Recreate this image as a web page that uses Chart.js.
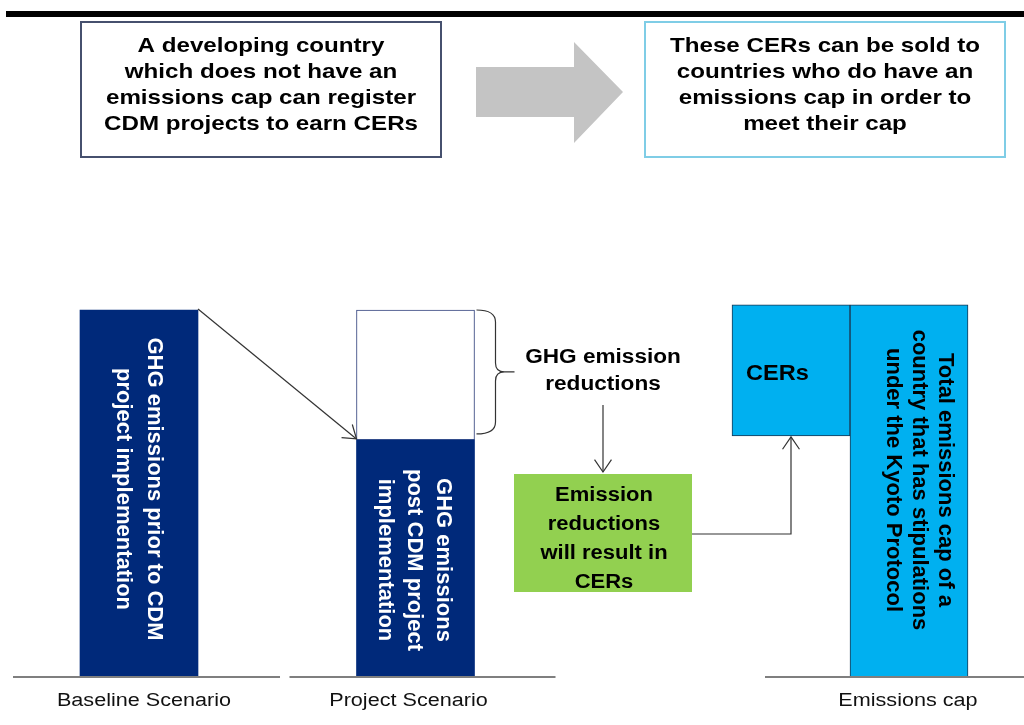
<!DOCTYPE html>
<html>
<head>
<meta charset="utf-8">
<title>CDM projects and CERs</title>
<script src="https://cdn.jsdelivr.net/npm/chart.js@4/dist/chart.umd.min.js"></script>
<style>
  html, body { margin: 0; padding: 0; background: #fff; }
  #wrap { position: relative; width: 1024px; height: 725px; }
</style>
</head>
<body>
<div id="wrap"><canvas id="chart"></canvas></div>
<script>
// --- values (baseline emissions = 100) ---
const CATEGORIES = ["Baseline Scenario", "Project Scenario", "Emissions cap"];
const GHG_EMISSIONS = [100, 64.6, null];
const EMISSION_REDUCTIONS = [null, 35.4, null];
const CERS = [null, null, [65.7, 101.4]];
const EMISSIONS_CAP = [null, null, 101.4];

// --- texts ---
const BAR_TEXT = [
  ["GHG emissions prior to CDM", "project implementation"],
  ["GHG emissions", "post CDM project", "implementation"],
  ["Total emissions cap of a", "country that has stipulations", "under the Kyoto Protocol"]
];
const LEFT_NOTE = ["A developing country", "which does not have an", "emissions cap can register", "CDM projects to earn CERs"];
const RIGHT_NOTE = ["These CERs can be sold to", "countries who do have an", "emissions cap in order to", "meet their cap"];
const REDUCTION_NOTE = ["GHG emission", "reductions"];
const RESULT_NOTE = ["Emission", "reductions", "will result in", "CERs"];
const CER_LABEL = "CERs";

// each category sits on a slot of a wider category axis so the gaps match the original
const SLOTS = [0, 7, 18];
const N_SLOTS = 19;

const NAVY = "#00297a";
const SKY = "#00b0f0";
const GREEN = "#92d050";
const FONT = '"Liberation Sans", Arial, sans-serif';
const STRETCH = 1.15; // the source artwork is drawn a bit wide

function spread(values) {
  const out = new Array(N_SLOTS).fill(null);
  SLOTS.forEach((s, i) => { out[s] = values[i]; });
  return out;
}

function write(ctx, str, x, y, size, o = {}) {
  ctx.save();
  ctx.translate(x, y);
  if (o.rotate) ctx.rotate(Math.PI / 2);
  ctx.scale(o.sx || 1, 1);
  ctx.font = (o.bold === false ? "" : "bold ") + size + "px " + FONT;
  ctx.fillStyle = o.color || "#000";
  ctx.textAlign = o.align || "center";
  ctx.textBaseline = o.baseline || "alphabetic";
  ctx.fillText(str, 0, 0);
  ctx.restore();
}

function lines(ctx, list, x, y0, step, size, o) {
  list.forEach((s, i) => write(ctx, s, x, y0 + i * step, size, o));
}

// rotated text reading top to bottom, first line on the right
function sideways(ctx, list, cx, cy, step, size, color) {
  const n = list.length;
  list.forEach((s, i) => {
    write(ctx, s, cx + ((n - 1) / 2 - i) * step, cy, size, { rotate: true, color, baseline: "middle" });
  });
}

function arrow(ctx, pts) {
  ctx.save();
  ctx.strokeStyle = "#333";
  ctx.lineWidth = 1.2;
  ctx.beginPath();
  ctx.moveTo(pts[0][0], pts[0][1]);
  pts.slice(1).forEach((p) => ctx.lineTo(p[0], p[1]));
  ctx.stroke();
  const [x1, y1] = pts[pts.length - 2];
  const [x2, y2] = pts[pts.length - 1];
  const a = Math.atan2(y2 - y1, x2 - x1);
  ctx.beginPath();
  ctx.moveTo(x2 - 15 * Math.cos(a - 0.6), y2 - 15 * Math.sin(a - 0.6));
  ctx.lineTo(x2, y2);
  ctx.lineTo(x2 - 15 * Math.cos(a + 0.6), y2 - 15 * Math.sin(a + 0.6));
  ctx.stroke();
  ctx.restore();
}

const diagram = {
  id: "diagram",
  afterDatasetsDraw(chart) {
    const ctx = chart.ctx;
    const y = chart.scales.y;
    const navy = chart.getDatasetMeta(1).data;
    const white = chart.getDatasetMeta(2).data;
    const cers = chart.getDatasetMeta(0).data[SLOTS[2]];
    const cap = chart.getDatasetMeta(3).data[SLOTS[2]];
    const base = navy[SLOTS[0]];
    const proj = navy[SLOTS[1]];
    const gap = white[SLOTS[1]];
    const zero = y.getPixelForValue(0);

    ctx.save();
    // top rule
    ctx.fillStyle = "#000";
    ctx.fillRect(6, 11, 1018, 6);

    // two notes and the big grey arrow
    ctx.lineWidth = 2;
    ctx.strokeStyle = "#46506e";
    ctx.strokeRect(81, 22, 360, 135);
    ctx.strokeStyle = "#7fcde6";
    ctx.strokeRect(645, 22, 360, 135);
    lines(ctx, LEFT_NOTE, 261, 52, 26, 21, { sx: STRETCH });
    lines(ctx, RIGHT_NOTE, 825, 52, 26, 21, { sx: STRETCH });
    ctx.fillStyle = "#c4c4c4";
    ctx.beginPath();
    ctx.moveTo(476, 67); ctx.lineTo(574, 67); ctx.lineTo(574, 42);
    ctx.lineTo(623, 92); ctx.lineTo(574, 143); ctx.lineTo(574, 117);
    ctx.lineTo(476, 117); ctx.closePath();
    ctx.fill();

    // ground lines and category names
    ctx.fillStyle = "#7f7f7f";
    ctx.fillRect(base.x - 126, zero - 1, 267, 2);
    ctx.fillRect(proj.x - 126, zero - 1, 266, 2);
    ctx.fillRect(cers.x - 26, zero - 1, chart.width - cers.x + 26, 2);
    write(ctx, CATEGORIES[0], base.x + 5, zero + 29, 18, { bold: false, sx: 1.2, color: "#111" });
    write(ctx, CATEGORIES[1], proj.x - 7, zero + 29, 18, { bold: false, sx: 1.2, color: "#111" });
    write(ctx, CATEGORIES[2], cap.x - 1, zero + 29, 18, { bold: false, sx: 1.2, color: "#111" });

    // texts inside the bars
    sideways(ctx, BAR_TEXT[0], base.x, 489, 31, 22, "#fff");
    sideways(ctx, BAR_TEXT[1], proj.x - 1, 560, 29, 22, "#fff");
    sideways(ctx, BAR_TEXT[2], cap.x + 10, 480, 26, 22, "#000");
    write(ctx, CER_LABEL, cers.x - 45, cers.y + 75, 22, { align: "left", sx: 1.07 });

    // baseline top corner -> start of reductions
    arrow(ctx, [[base.x + base.width / 2, base.y - 1], [proj.x - proj.width / 2, proj.y - 1]]);

    // brace beside the reductions
    const bx = gap.x + gap.width / 2 + 2;
    const top = gap.y, bot = gap.base - 6, mid = (top + bot) / 2;
    ctx.strokeStyle = "#333";
    ctx.lineWidth = 1.2;
    ctx.beginPath();
    ctx.moveTo(bx, top);
    ctx.quadraticCurveTo(bx + 19, top, bx + 19, top + 12);
    ctx.lineTo(bx + 19, mid - 9);
    ctx.quadraticCurveTo(bx + 19, mid, bx + 28, mid);
    ctx.quadraticCurveTo(bx + 19, mid, bx + 19, mid + 9);
    ctx.lineTo(bx + 19, bot - 12);
    ctx.quadraticCurveTo(bx + 19, bot, bx, bot);
    ctx.moveTo(bx + 28, mid);
    ctx.lineTo(bx + 38, mid);
    ctx.stroke();

    lines(ctx, REDUCTION_NOTE, 603, 363, 27, 20, { sx: 1.13 });
    arrow(ctx, [[603, 405], [603, 472]]);

    // green result box
    ctx.fillStyle = GREEN;
    ctx.fillRect(514, 474, 178, 118);
    lines(ctx, RESULT_NOTE, 604, 501, 29, 20, { sx: 1.1 });

    // result box -> CERs
    arrow(ctx, [[692, 534], [cers.x, 534], [cers.x, cers.base + 1]]);
    ctx.restore();
  }
};

const common = { barThickness: 118, skipNull: true, clip: false, borderSkipped: false };

new Chart(document.getElementById("chart"), {
  type: "bar",
  data: {
    labels: spread(CATEGORIES).map((v) => v || ""),
    datasets: [
      { ...common, label: "CERs", data: spread(CERS), stack: "cers",
        backgroundColor: SKY, borderColor: "#1b3550", borderWidth: 1 },
      { ...common, label: "GHG emissions", data: spread(GHG_EMISSIONS), stack: "scenario",
        backgroundColor: NAVY, borderWidth: 0 },
      { ...common, label: "GHG emission reductions", data: spread(EMISSION_REDUCTIONS), stack: "scenario",
        backgroundColor: "#fff", borderColor: "#33437e", borderWidth: 1 },
      { ...common, label: "Emissions cap", data: spread(EMISSIONS_CAP), stack: "scenario",
        backgroundColor: SKY, borderColor: "#1b3550", borderWidth: 1 }
    ]
  },
  options: {
    responsive: true,
    maintainAspectRatio: false,
    animation: false,
    events: [],
    layout: { padding: { left: 119.25, right: 154.25, top: 310, bottom: 48 } },
    scales: {
      x: { display: false },
      y: { display: false, stacked: true, min: 0, max: 100 }
    },
    plugins: { legend: { display: false }, tooltip: { enabled: false } }
  },
  plugins: [diagram]
});
</script>
</body>
</html>
